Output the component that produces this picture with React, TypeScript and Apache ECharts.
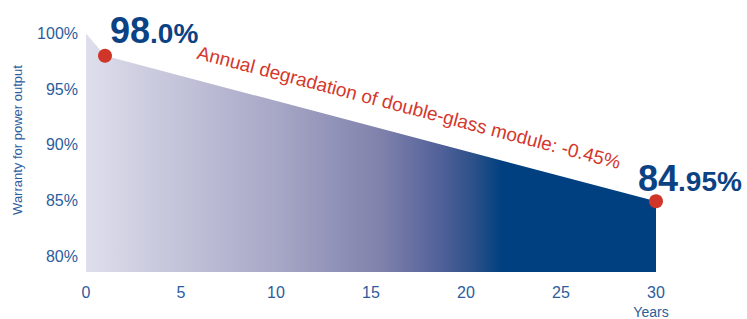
import React, { useEffect, useRef } from 'react';
import * as echarts from 'echarts';

const years = [0, 1, 30];
const warranty = [100, 98, 84.95];
const markedYears = [1, 30];
const markedValues = [98, 84.95];
const markedBig = ['98', '84'];
const markedSmall = ['.0%', '.95%'];
const yTicks = [80, 85, 90, 95, 100];
const annotation = 'Annual degradation of double-glass module: -0.45%';
const yAxisTitle = 'Warranty for power output';
const xAxisTitle = 'Years';

const FONT = '"Liberation Sans", Arial, sans-serif';
const BLUE_TEXT = '#2c5c9c';
const BIG_TEXT = '#0a4284';
const RED = '#d4372c';

export default function App() {
  const ref = useRef<HTMLDivElement>(null);
  useEffect(() => {
    if (!ref.current) return;
    const chart = echarts.init(ref.current, undefined, { renderer: 'svg' });
    const labelPos = [[12, 0], [-11, 2]];
    chart.setOption({
      animation: false,
      grid: { left: 86, right: 91, top: 33.5, bottom: 47, containLabel: false },
      xAxis: {
        type: 'value',
        min: 0,
        max: 30,
        interval: 5,
        axisLine: { show: false },
        axisTick: { show: false },
        splitLine: { show: false },
        axisLabel: { color: BLUE_TEXT, fontSize: 16, fontFamily: FONT, margin: 12 },
      },
      yAxis: {
        type: 'value',
        min: 78.6,
        max: 100,
        axisLine: { show: false },
        axisTick: { show: false },
        splitLine: { show: false },
        axisLabel: {
          customValues: yTicks,
          formatter: (v: number) => `${v}%`,
          color: BLUE_TEXT,
          fontSize: 16,
          fontFamily: FONT,
          margin: 8,
        },
      },
      series: [
        {
          type: 'line',
          data: years.map((y, i) => [y, warranty[i]]),
          symbol: 'none',
          lineStyle: { width: 0 },
          areaStyle: {
            origin: 'start',
            opacity: 1,
            color: new echarts.graphic.LinearGradient(0, 0, 1, 0, [
              { offset: 0, color: '#dedeec' },
              { offset: 0.33, color: '#a8a8c7' },
              { offset: 0.52, color: '#7f81ab' },
              { offset: 0.62, color: '#52619a' },
              { offset: 0.68, color: '#2c5189' },
              { offset: 0.73, color: '#004080' },
              { offset: 1, color: '#004080' },
            ]),
          },
          z: 1,
        },
        {
          type: 'scatter',
          data: markedYears.map((y, i) => ({
            value: [y, markedValues[i]],
            label: { position: labelPos[i] },
          })),
          symbolSize: 14,
          itemStyle: { color: '#d0352a', opacity: 1 },
          emphasis: { disabled: true },
          z: 3,
          label: {
            show: true,
            align: 'left',
            verticalAlign: 'bottom',
            opacity: 1,
            formatter: (p: any) => `{a|${markedBig[p.dataIndex]}}{b|${markedSmall[p.dataIndex]}}`,
            rich: {
              a: { fontSize: 36, fontWeight: 'bold', color: BIG_TEXT, fontFamily: FONT, verticalAlign: 'bottom', lineHeight: 40 },
              b: { fontSize: 28, fontWeight: 'bold', color: BIG_TEXT, fontFamily: FONT, verticalAlign: 'bottom', lineHeight: 40, padding: [0, 0, 1, 0] },
            },
          },
        },
      ],
      graphic: [
        {
          type: 'text',
          x: 200,
          y: 43,
          rotation: -0.256,
          style: { text: annotation, fill: RED, fontSize: 19, fontFamily: FONT },
        },
        {
          type: 'text',
          x: 17,
          y: 140,
          rotation: Math.PI / 2,
          style: { text: yAxisTitle, fill: BLUE_TEXT, fontSize: 13, fontFamily: FONT, align: 'center', verticalAlign: 'middle' },
        },
        {
          type: 'text',
          x: 651,
          y: 312,
          style: { text: xAxisTitle, fill: BLUE_TEXT, fontSize: 14, fontFamily: FONT, align: 'center', verticalAlign: 'middle' },
        },
      ],
    });
    return () => chart.dispose();
  }, []);
  return <div ref={ref} style={{ width: 747, height: 319, position: 'absolute', left: 0, top: 0 }} />;
}
